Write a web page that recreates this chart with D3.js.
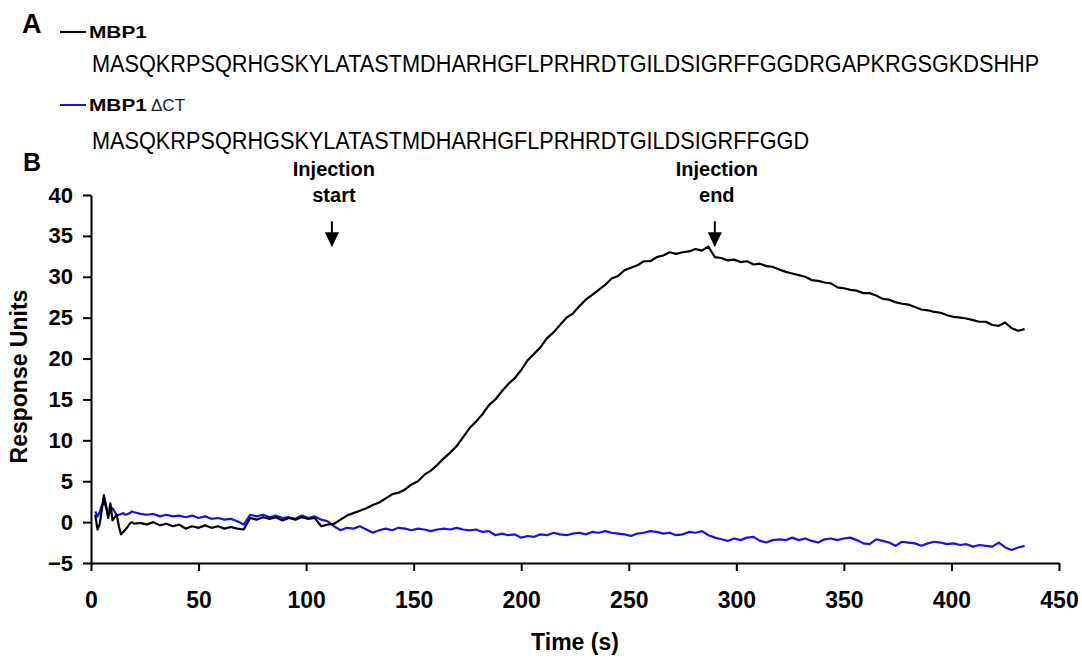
<!DOCTYPE html>
<html>
<head>
<meta charset="utf-8">
<script src="https://cdn.jsdelivr.net/npm/d3@7"></script>
<style>
  body { margin: 0; background: #fff; }
  svg { font-family: "Liberation Sans", Arial, sans-serif; }
  .axis path, .axis line { stroke: #000; stroke-width: 2; }
  .axis text { font-weight: bold; fill: #000; font-family: "Liberation Sans", Arial, sans-serif; }
</style>
</head>
<body>
<svg id="chart"></svg>
<script>
// sampling times (s)
const times = [
  2, 3, 4, 5, 6, 7, 8, 9, 10, 11, 12, 13, 14, 15, 16, 17, 18, 19, 20,
  23, 26, 29, 32, 35, 38, 41, 44, 47, 50,
  53, 56, 59, 62, 65, 68, 71, 74, 77, 80,
  83, 86, 89, 92, 95, 98, 101, 104, 107, 110,
  113, 116, 119, 122, 125, 128, 131, 134, 137, 140,
  143, 146, 149, 152, 155, 158, 161, 164, 167, 170,
  173, 176, 179, 182, 185, 188, 191, 194, 197, 200,
  203, 206, 209, 212, 215, 218, 221, 224, 227, 230,
  233, 236, 239, 242, 245, 248, 251, 254, 257, 260,
  263, 266, 269, 272, 275, 278, 281, 284, 287, 290,
  293, 296, 299, 302, 305, 308, 311, 314, 317, 320,
  323, 326, 329, 332, 335, 338, 341, 344, 347, 350,
  353, 356, 359, 362, 365, 368, 371, 374, 377, 380,
  383, 386, 389, 392, 395, 398, 401, 404, 407, 410,
  413, 416, 419, 422, 425, 428, 431, 434
];

// MBP1 response units (black)
const mbp1 = [
  0.9, -0.9, -0.3, 1.5, 3.3, 2.0, 0.5, 2.3, 0.2, 0.6, 0.9, -0.6, -1.5, -1.2, -0.9, -0.6, -0.2, 0.0, -0.2,
  -0.1, -0.3, 0.0, -0.4, -0.2, -0.5, -0.3, -0.8, -0.5, -0.7,
  -0.4, -0.7, -0.5, -0.8, -0.6, -0.8, -0.9, 0.5, 0.3, 0.6,
  0.4, 0.6, 0.2, 0.5, 0.3, 0.6, 0.4, 0.5, -0.5, -0.3,
  -0.2, 0.3, 0.8, 1.1, 1.4, 1.7, 2.1, 2.4, 2.9, 3.4,
  3.6, 4.0, 4.6, 5.0, 5.8, 6.3, 7.0, 7.8, 8.5, 9.3,
  10.4, 11.5, 12.3, 13.2, 14.3, 15.0, 16.0, 16.9, 17.6, 18.6,
  19.8, 20.6, 21.4, 22.5, 23.2, 24.1, 25.0, 25.5, 26.4, 27.2,
  27.8, 28.4, 29.0, 29.8, 30.1, 30.8, 31.1, 31.4, 31.9, 31.9,
  32.4, 32.6, 33.0, 32.8, 33.0, 33.1, 33.4, 33.2, 33.7, 32.4,
  32.3, 32.0, 32.1, 31.8, 31.9, 31.5, 31.6, 31.3, 31.2, 30.9,
  30.6, 30.4, 30.2, 30.0, 29.6, 29.5, 29.3, 29.2, 28.7, 28.6,
  28.4, 28.3, 28.0, 28.0, 27.7, 27.3, 27.2, 26.9, 26.7, 26.6,
  26.3, 26.0, 25.9, 25.7, 25.6, 25.3, 25.1, 25.0, 24.9, 24.7,
  24.5, 24.5, 24.1, 24.0, 24.4, 23.7, 23.4, 23.6
];

// MBP1 ΔCT response units (blue)
const mbp1dct = [
  1.3, 0.7, 1.2, 2.0, 2.5, 1.8, 0.9, 1.2, 1.7, 1.3, 0.8, 0.9, 1.0, 1.1, 0.9, 1.0, 1.1, 1.3, 1.2,
  1.0, 0.9, 1.0, 0.7, 0.9, 0.7, 0.8, 0.6, 0.8, 0.5,
  0.7, 0.4, 0.5, 0.3, 0.4, 0.1, -0.3, 0.9, 0.7, 0.9,
  0.6, 0.8, 0.5, 0.6, 0.4, 0.8, 0.5, 0.7, 0.3, 0.1,
  -0.5, -1.0, -0.7, -0.8, -0.5, -0.9, -1.3, -1.0, -0.8, -1.0,
  -0.7, -0.8, -1.0, -0.8, -0.9, -1.1, -0.9, -0.8, -0.9, -0.7,
  -0.9, -1.0, -0.9, -1.2, -1.1, -1.6, -1.4, -1.6, -1.5, -1.9,
  -1.7, -1.8, -1.5, -1.6, -1.3, -1.5, -1.6, -1.4, -1.3, -1.5,
  -1.2, -1.3, -1.1, -1.3, -1.4, -1.5, -1.7, -1.4, -1.3, -1.1,
  -1.2, -1.4, -1.3, -1.6, -1.5, -1.2, -1.3, -1.1, -1.6, -1.9,
  -2.1, -2.3, -2.0, -2.2, -1.9, -1.8, -2.3, -2.5, -2.2, -2.1,
  -2.2, -1.9, -2.2, -2.0, -2.3, -2.5, -2.1, -2.0, -2.2, -2.0,
  -1.9, -2.2, -2.6, -2.7, -2.1, -2.3, -2.5, -2.9, -2.4, -2.5,
  -2.6, -2.9, -2.6, -2.4, -2.5, -2.7, -2.6, -2.8, -2.7, -3.0,
  -2.8, -2.9, -3.0, -2.5, -3.1, -3.4, -3.1, -2.9
];

const xTicks = [0, 50, 100, 150, 200, 250, 300, 350, 400, 450];
const yTicks = [-5, 0, 5, 10, 15, 20, 25, 30, 35, 40];

const seqFull = "MASQKRPSQRHGSKYLATASTMDHARHGFLPRHRDTGILDSIGRFFGGDRGAPKRGSGKDSHHP";
const seqTrunc = "MASQKRPSQRHGSKYLATASTMDHARHGFLPRHRDTGILDSIGRFFGGD";

const injectionTimes = [112, 290];
const injectionLabels = [["Injection", "start"], ["Injection", "end"]];

const width = 1082, height = 658;
const svg = d3.select("#chart").attr("width", width).attr("height", height);

// ---- panel A: legend + sequences ----
svg.append("text").attr("x", 22).attr("y", 33)
  .style("font-size", "27px").style("font-weight", "bold").text("A");

const legend = [
  {y: 32, color: "#000", name: "MBP1", suffix: "", seq: seqFull, seqY: 72},
  {y: 105, color: "#1414e6", name: "MBP1", suffix: "\u0394CT", seq: seqTrunc, seqY: 149}
];

// squeeze/stretch a text horizontally to a target width
function fitWidth(sel, x, y, target) {
  const natural = sel.node().getComputedTextLength();
  const k = target / natural;
  sel.attr("transform", `translate(${x},${y}) scale(${k},1)`);
  return k;
}

let seqFactor = null;
legend.forEach(d => {
  svg.append("line").attr("x1", 60).attr("x2", 86).attr("y1", d.y).attr("y2", d.y)
    .attr("stroke", d.color).attr("stroke-width", 2);
  const name = svg.append("text")
    .style("font-size", "16px").style("font-weight", "bold")
    .text(d.name);
  fitWidth(name, 89, d.y + 6, 58);
  if (d.suffix) {
    svg.append("text").attr("x", 151).attr("y", d.y + 6)
      .style("font-size", "17px").attr("fill", "#222")
      .text(d.suffix);
  }
  // sequences share one condensing factor, set by the full sequence
  const s = svg.append("text")
    .style("font-size", "24px").style("font-weight", "500").text(d.seq);
  const natural = s.node().getComputedTextLength();
  if (seqFactor === null) seqFactor = 948 / natural;
  s.attr("transform", `translate(92,${d.seqY}) scale(${seqFactor},1)`);
});

svg.append("text").attr("x", 23).attr("y", 171)
  .style("font-size", "25px").style("font-weight", "bold").text("B");

// ---- panel B: sensorgram ----
const margin = {top: 195, right: 23, bottom: 95, left: 91};
const innerW = width - margin.left - margin.right;
const innerH = height - margin.top - margin.bottom;

const chart = svg.append("g").attr("transform", `translate(${margin.left},${margin.top})`);

const xScale = d3.scaleLinear().domain([0, 450]).range([0, innerW]);
const yScale = d3.scaleLinear().domain([-5, 40]).range([innerH, 0]);

const xAxis = d3.axisBottom(xScale).tickValues(xTicks).tickSize(8).tickSizeOuter(0).tickPadding(21)
  .tickFormat(d3.format("d"));
const yAxis = d3.axisLeft(yScale).tickValues(yTicks).tickSize(8).tickSizeOuter(0).tickPadding(10)
  .tickFormat(d3.format("d"));

chart.append("g").attr("class", "axis x-axis")
  .attr("transform", `translate(0,${innerH})`)
  .call(xAxis)
  .selectAll("text").style("font-size", "23px");

chart.append("g").attr("class", "axis y-axis")
  .call(yAxis)
  .selectAll("text").style("font-size", "22px");

// axis titles
chart.append("text")
  .attr("x", xScale(225)).attr("y", innerH + 87)
  .attr("text-anchor", "middle")
  .style("font-size", "23px").style("font-weight", "bold")
  .text("Time (s)");

chart.append("text")
  .attr("transform", `translate(${-64},${yScale(17.8)}) rotate(-90)`)
  .attr("text-anchor", "middle")
  .style("font-size", "23px").style("font-weight", "bold")
  .text("Response Units");

// curves
const line = d3.line()
  .x((d, i) => xScale(times[i]))
  .y(d => yScale(d));

chart.append("path").datum(mbp1dct)
  .attr("fill", "none").attr("stroke", "#1414e6").attr("stroke-width", 2.2)
  .attr("stroke-linejoin", "round")
  .attr("d", line);

chart.append("path").datum(mbp1)
  .attr("fill", "none").attr("stroke", "#000").attr("stroke-width", 2.2)
  .attr("stroke-linejoin", "round")
  .attr("d", line);

// injection markers
const tipVal = 33.6;
injectionTimes.forEach((t, i) => {
  const x = xScale(t);
  const tip = yScale(tipVal);
  const g = chart.append("g");
  g.append("line").attr("x1", x).attr("x2", x).attr("y1", tip - 26).attr("y2", tip - 12)
    .attr("stroke", "#000").attr("stroke-width", 2);
  g.append("path")
    .attr("d", `M${x - 7},${tip - 15}L${x + 7},${tip - 15}L${x},${tip}Z`)
    .attr("fill", "#000");
  injectionLabels[i].forEach((txt, k) => {
    g.append("text").attr("x", x + 2).attr("y", tip - 71 + k * 26)
      .attr("text-anchor", "middle")
      .style("font-size", "20px").style("font-weight", "bold")
      .text(txt);
  });
});
</script>
</body>
</html>
